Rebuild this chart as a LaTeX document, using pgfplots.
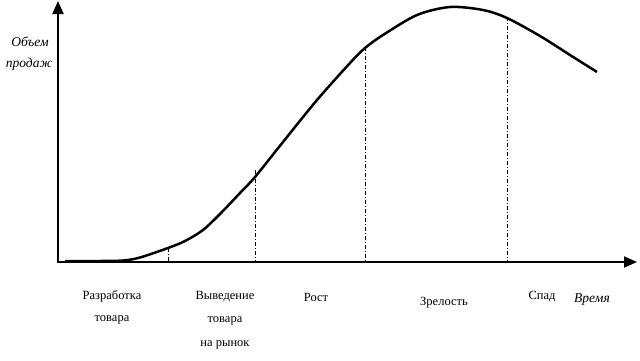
\documentclass[border=0pt]{standalone}
\usepackage{pgfplots}
\pgfplotsset{compat=1.18}
\usepackage{fontspec}
\setmainfont{Liberation Serif}
\usetikzlibrary{arrows.meta}
\tikzset{
  dl/.style={black, line width=0.8bp, dash pattern=on 4bp off 2bp on 1bp off 2bp},
  lb/.style={font=\fontsize{12.5bp}{14bp}\selectfont, inner sep=0pt, anchor=center},
  li/.style={font=\fontsize{13.5bp}{15bp}\selectfont\itshape, inner sep=0pt, anchor=center}
}
\begin{document}
\begin{tikzpicture}
\begin{axis}[
  scale only axis, width=640bp, height=360bp,
  xmin=0, xmax=640, ymin=0, ymax=360, y dir=reverse,
  hide axis, clip=false,
]
\path (axis cs:0,0) rectangle (axis cs:640,360);
% axes
\draw[line width=2bp,-{Triangle[length=13bp,width=11bp]}] (axis cs:58,262) -- (axis cs:58,1);
\draw[line width=2bp,-{Triangle[length=13bp,width=11bp]}] (axis cs:57,262) -- (axis cs:637,262);
% dashed lines
\addplot[dl] coordinates {(168,248) (168,262)};
\addplot[dl] coordinates {(255,170) (255,262)};
\addplot[dl] coordinates {(365,47) (365,262)};
\addplot[dl] coordinates {(507,17) (507,262)};
% curve
\addplot[black, line width=2.5bp, smooth] coordinates {
(65,261) (100,261) (123,260.5) (140,257.5) (168,248) (185,241) (203,230) (220,214)
(240,193) (255,177) (283,142) (317,100) (350,63) (365,48) (383,35) (417,15)
(450,7) (483,10) (507,18) (540,36) (570,55) (597,72)};
% labels
\node[li] at (axis cs:30,42) {Объем};
\node[li] at (axis cs:29,64) {продаж};
\node[lb] at (axis cs:112,296) {Разработка};
\node[lb] at (axis cs:112,320) {товара};
\node[lb] at (axis cs:225,297) {Выведение};
\node[lb] at (axis cs:225,321) {товара};
\node[lb] at (axis cs:225,345) {на рынок};
\node[lb] at (axis cs:316,297) {Рост};
\node[lb] at (axis cs:444,303) {Зрелость};
\node[lb] at (axis cs:542,297) {Спад};
\node[li] at (axis cs:592,300) {Время};
\end{axis}
\end{tikzpicture}
\end{document}
